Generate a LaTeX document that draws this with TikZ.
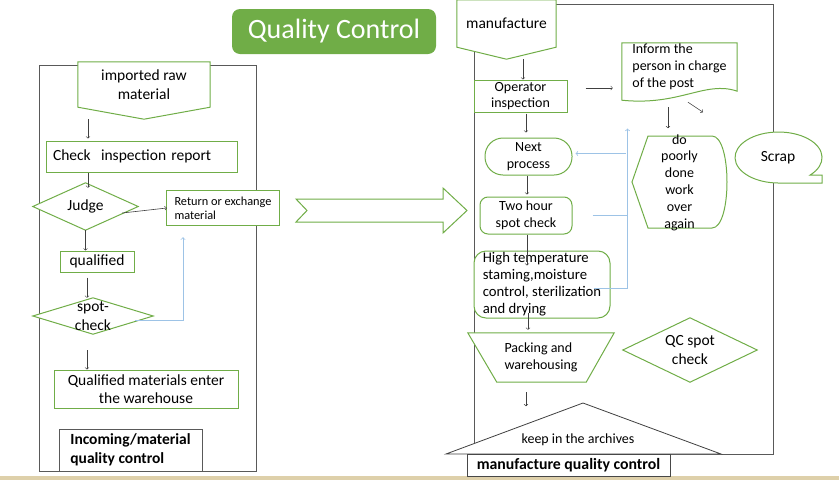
\documentclass[tikz,border=0pt]{standalone}
\usepackage{fontspec}
\setmainfont{Carlito}
\usetikzlibrary{calc,backgrounds}
\definecolor{qcgreen}{RGB}{112,173,71}
\definecolor{qcblue}{RGB}{157,195,230}
\definecolor{qcgray}{RGB}{89,89,89}
\definecolor{qcsand}{RGB}{222,208,170}
\tikzset{
  box/.style={draw=qcgreen, line width=1pt, fill=white, inner sep=0pt, align=center},
  plain/.style={inner sep=0pt, align=center},
  shp/.style={draw=qcgreen, line width=1pt, fill=white},
  frm/.style={draw=qcgray, line width=1pt},
  flow/.style={-to, line width=0.6pt, draw=black!75},
  back/.style={-to, line width=0.8pt, draw=qcblue},
  big/.style={font=\fontsize{15.5}{18.5}\selectfont},
  mid/.style={font=\fontsize{14}{16.8}\selectfont},
}
\begin{document}
\begin{tikzpicture}[x=1pt,y=-1pt]
    \useasboundingbox (0,0) rectangle (839,480);
    \node[fill=qcgreen, rounded corners=8, minimum width=204, minimum height=45, text=white, font=\fontsize{28}{32}\selectfont] (ttl) at (334,31.5) {Quality Control};
    %incoming material
    \node[plain, big, minimum width=132, minimum height=45] (imp) at (144,84.5) {imported raw\\material};
    \node[box, big, minimum width=191, minimum height=31, text width=177, align=left] (chk) at (141.5,156.5) {Check~ inspection report};
    \node[plain, big, minimum width=105, minimum height=47] (jud) at (85.5,206.5) {Judge};
    \node[plain, font=\fontsize{12.3}{14}\selectfont, minimum width=112, minimum height=34, align=left] (ret) at (223,208) {Return or exchange\\material};
    \node[box, big, minimum width=74, minimum height=21] (qua) at (97,261.5) {qualified};
    \node[plain, big, minimum width=120, minimum height=36] (spo) at (93,316) {spot-\\check};
    \node[box, big, minimum width=184, minimum height=38] (whs) at (146,389) {Qualified materials enter\\the warehouse};
    \node[box, draw=qcgray, line width=1pt, font=\bfseries\fontsize{15.5}{19}\selectfont, minimum width=143, minimum height=42, align=left] (inc) at (130.5,450) {Incoming/material\\quality control};
    %manufacture
    \node[plain, big, minimum width=99, minimum height=47] (man) at (506.5,23.5) {manufacture};
    \node[box, mid, minimum width=93, minimum height=32] (opi) at (520.5,96) {Operator\\inspection};
    \node[plain, mid, minimum width=115, minimum height=48, align=left] (inf) at (679.5,67) {Inform the\\person in charge\\of the post};
    \node[box, mid, rounded corners=18, minimum width=87, minimum height=37] (nxt) at (528.5,156.5) {Next\\process};
    \node[box, mid, rounded corners=8, minimum width=92, minimum height=37] (two) at (526,215.5) {Two hour\\spot check};
    \node[plain, mid] (dpw) at (679.5,182.5) {do\\poorly\\done\\work\\over\\again};
    \node[plain, big] (scr) at (778,158) {Scrap};
    \node[box, font=\fontsize{14.7}{17}\selectfont, rounded corners=12, minimum width=136, minimum height=67, align=left] (hig) at (542,284.5) {High temperature\\staming,moisture\\control, sterilization\\and drying};
    \node[plain, mid, minimum width=146, minimum height=49, align=left] (pak) at (541,357.5) {Packing and\\warehousing};
    \node[plain, big, minimum width=134, minimum height=64] (qcs) at (690,350) {QC spot\\check};
    \node[plain, mid] (kia) at (578,440) {keep in the archives};
    \node[box, draw=qcgray!80!black, line width=1pt, font=\bfseries\fontsize{15.8}{19}\selectfont, minimum width=203, minimum height=22] (mqc) at (568.5,465.5) {manufacture quality control};
    %outlines
    \begin{scope}[on background layer]
      \fill[qcsand] (0,476) rectangle (839,480);
      \draw[frm] (39,65) rectangle (256,471);
      \draw[frm] (474,4) rectangle (773,454);
      \draw[shp] (imp.north west) -- (imp.north east) -- (imp.south east) -- ([yshift=-12pt]imp.south) -- (imp.south west) -- cycle;
      \draw[shp] (ret.north west) rectangle (ret.south east);
      \draw[shp] (man.north west) -- (man.north east) -- (man.south east) -- ([yshift=-12pt]man.south) -- (man.south west) -- cycle;
      \draw[shp] (jud.north) -- (jud.east) -- (jud.south) -- (jud.west) -- cycle;
      \draw[shp] (spo.north) -- (spo.east) -- (spo.south) -- (spo.west) -- cycle;
      \draw[shp] (qcs.north) -- (qcs.east) -- (qcs.south) -- (qcs.west) -- cycle;
      \draw[shp] (inf.north west) -- (inf.north east) -- (inf.south east) .. controls ([xshift=-32pt,yshift=11pt]inf.south east) and ([xshift=58pt,yshift=-15pt]inf.south west) .. ([yshift=-9pt]inf.south west) -- cycle;
      \draw[shp] (pak.north west) -- (pak.north east) -- ([xshift=-28pt]pak.south east) -- ([xshift=29pt]pak.south west) -- cycle;
      \draw[shp] (296,199) -- (443,199) -- (443,188) -- (467,210.5) -- (443,233) -- (443,222) -- (296,222) -- (307,210.5) -- cycle;
      \draw[shp] (648,136) -- (712,136) .. controls (732,136) and (732,228) .. (712,228) -- (648,228) -- (632,182) -- cycle;
      \draw[shp] (810.2,175) arc[start angle=43.3, end angle=-270, x radius=43.5, y radius=25.5] -- (822,183) -- (822,175) -- cycle;
      \draw[draw=black!75, line width=0.8pt, fill=white] (446,454) -- (583,403) -- (721,454) -- cycle;
    \end{scope}
    %left arrows
    \draw[flow] ([xshift=-56pt,yshift=-12pt]imp.south) -- ([xshift=-53.5pt,yshift=2pt]chk.north);
    \draw[flow] ([xshift=-53.5pt]chk.south) -- ([xshift=2.5pt,yshift=-5pt]jud.north);
    \draw[flow] ([xshift=-16pt,yshift=-6.5pt]jud.east) -- (ret.west);
    \draw[flow] (jud.south) -- ([xshift=-11.5pt]qua.north);
    \draw[flow] ([xshift=-10pt,yshift=-5pt]qua.south) -- ([xshift=-6pt]spo.north);
    \draw[flow] ([xshift=-6pt,yshift=-16pt]spo.south) -- ([xshift=-59pt]whs.north);
    \draw[back] ([xshift=-18pt,yshift=-4pt]spo.east) -| ([xshift=-40pt,yshift=-12pt]ret.south);
    %right arrows
    \draw[flow] ([xshift=16.5pt,yshift=-12pt]man.south) -- ([xshift=2.5pt]opi.north);
    \draw[flow] ([xshift=18pt,yshift=8pt]opi.east) -- ([xshift=-9pt,yshift=-21pt]inf.west);
    \draw[flow] ([xshift=8.5pt,yshift=-11pt]inf.south) -- ++(15,10);
    \draw[flow] ([xshift=-11.5pt,yshift=-16pt]inf.south) -- ++(0,21);
    \draw[flow] ([xshift=5.5pt,yshift=-1pt]opi.south) -- ([xshift=-2.5pt,yshift=5pt]nxt.north);
    \draw[back] ([xshift=53pt,yshift=3pt]nxt.east) -- ([xshift=3pt,yshift=3pt]nxt.east);
    \draw[flow] ([xshift=-1.5pt]nxt.south) -- ([xshift=1pt,yshift=2pt]two.north);
    \draw[draw=qcblue, line width=0.8pt] ([xshift=20pt,yshift=0.5pt]two.east) -- ++(35,0);
    \draw[flow] ([xshift=1pt]two.south) -- ([xshift=-15pt,yshift=-15pt]hig.north);
    \draw[back] ([xshift=-17pt,yshift=-4pt]hig.east) -- ++(34,0) -- ++(0,-160);
    \draw[flow] ([xshift=-14pt,yshift=6pt]hig.south) -- ([xshift=-13pt,yshift=3pt]pak.north);
    \draw[flow] ([xshift=-15pt,yshift=-10pt]pak.south) -- ++(0,14);
\end{tikzpicture}
\end{document}
